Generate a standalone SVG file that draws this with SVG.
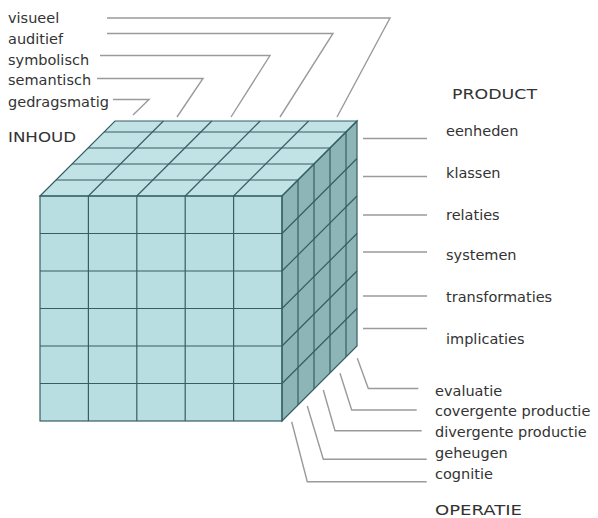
<svg xmlns="http://www.w3.org/2000/svg" width="598" height="518" viewBox="0 0 598 518">
<style>
text{font-family:"DejaVu Sans","Liberation Sans",sans-serif;font-size:14.5px;fill:#333}
.lead{fill:none;stroke:#9a9a9a;stroke-width:1.4}
.grid{stroke:#355f63;stroke-width:1.2;fill:none}
.front{fill:#b8dee1}
.top{fill:#c2e3e5}
.side{fill:#8db4b6}
</style>
<rect width="598" height="518" fill="#fff"/>
<g id="cube">
  <polygon class="top" points="40,196 282,196 357,121 115,121"/>
  <polygon class="side" points="282,196 357,121 357,346 282,421"/>
  <rect class="front" x="40" y="196" width="242" height="225"/>
  <g class="grid">
    <!-- front grid -->
    <rect x="40" y="196" width="242" height="225"/>
    <line x1="88.4" y1="196" x2="88.4" y2="421"/>
    <line x1="136.8" y1="196" x2="136.8" y2="421"/>
    <line x1="185.2" y1="196" x2="185.2" y2="421"/>
    <line x1="233.6" y1="196" x2="233.6" y2="421"/>
    <line x1="40" y1="233.5" x2="282" y2="233.5"/>
    <line x1="40" y1="271" x2="282" y2="271"/>
    <line x1="40" y1="308.5" x2="282" y2="308.5"/>
    <line x1="40" y1="346" x2="282" y2="346"/>
    <line x1="40" y1="383.5" x2="282" y2="383.5"/>
    <!-- top grid -->
    <polygon points="40,196 282,196 357,121 115,121"/>
    <line x1="56" y1="180" x2="298" y2="180"/>
    <line x1="72" y1="164" x2="314" y2="164"/>
    <line x1="88" y1="148" x2="330" y2="148"/>
    <line x1="104" y1="132" x2="346" y2="132"/>
    <line x1="88.4" y1="196" x2="163.4" y2="121"/>
    <line x1="136.8" y1="196" x2="211.8" y2="121"/>
    <line x1="185.2" y1="196" x2="260.2" y2="121"/>
    <line x1="233.6" y1="196" x2="308.6" y2="121"/>
    <!-- side grid -->
    <polygon points="282,196 357,121 357,346 282,421"/>
    <line x1="298" y1="180" x2="298" y2="405"/>
    <line x1="314" y1="164" x2="314" y2="389"/>
    <line x1="330" y1="148" x2="330" y2="373"/>
    <line x1="346" y1="132" x2="346" y2="357"/>
    <line x1="282" y1="233.5" x2="357" y2="158.5"/>
    <line x1="282" y1="271" x2="357" y2="196"/>
    <line x1="282" y1="308.5" x2="357" y2="233.5"/>
    <line x1="282" y1="346" x2="357" y2="271"/>
    <line x1="282" y1="383.5" x2="357" y2="308.5"/>
  </g>
</g>
<g id="connectors">
  <polyline class="lead" points="107,18 390,18 337,117"/>
  <polyline class="lead" points="107,33.5 333,33.5 280,117"/>
  <polyline class="lead" points="100,55.5 270,55.5 231,117"/>
  <polyline class="lead" points="97,78.5 203,78.5 177,117"/>
  <polyline class="lead" points="113,99.5 149,99.5 133,115"/>
  <line class="lead" x1="363" y1="138.5" x2="427" y2="138.5"/>
  <line class="lead" x1="363" y1="176.5" x2="427" y2="176.5"/>
  <line class="lead" x1="363" y1="215" x2="427" y2="215"/>
  <line class="lead" x1="363" y1="252" x2="427" y2="252"/>
  <line class="lead" x1="363" y1="296" x2="427" y2="296"/>
  <line class="lead" x1="363" y1="328.5" x2="427" y2="328.5"/>
  <polyline class="lead" points="357.3,358.3 368.3,388.5 418.3,388.5"/>
  <polyline class="lead" points="340,373.3 351.7,410 416.7,410"/>
  <polyline class="lead" points="323.3,390 335,430.7 421.7,430.7"/>
  <polyline class="lead" points="307.3,406 323.3,459.3 426.7,459.3"/>
  <polyline class="lead" points="291.7,421.7 307.3,481.7 426.7,481.7"/>
</g>
<g id="inhoud">
  <text x="8" y="23">visueel</text>
  <text x="8" y="44">auditief</text>
  <text x="8" y="64.5">symbolisch</text>
  <text x="8" y="85">semantisch</text>
  <text x="8" y="106.5">gedragsmatig</text>
  <text x="8" y="141.5" textLength="68" lengthAdjust="spacingAndGlyphs">INHOUD</text>
</g>
<g id="product">
  <text x="452" y="98.5" textLength="85" lengthAdjust="spacingAndGlyphs">PRODUCT</text>
  <text x="446" y="136">eenheden</text>
  <text x="446" y="177.5">klassen</text>
  <text x="446" y="219.5">relaties</text>
  <text x="446" y="260">systemen</text>
  <text x="446" y="302">transformaties</text>
  <text x="446" y="343.5">implicaties</text>
</g>
<g id="operatie">
  <text x="435" y="395.5">evaluatie</text>
  <text x="435" y="416">covergente productie</text>
  <text x="435" y="436.5">divergente productie</text>
  <text x="435" y="457.5">geheugen</text>
  <text x="435" y="478.5">cognitie</text>
  <text x="435" y="515" textLength="87" lengthAdjust="spacingAndGlyphs">OPERATIE</text>
</g>
</svg>
